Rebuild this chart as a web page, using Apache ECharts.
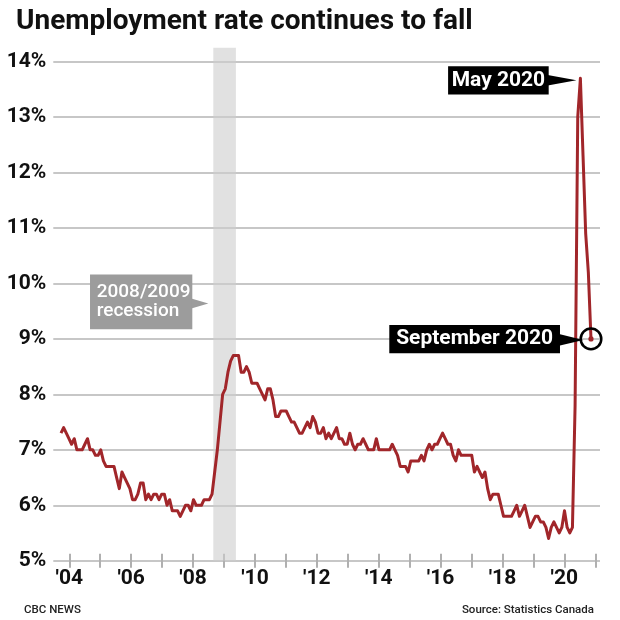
<!DOCTYPE html>
<html><head><meta charset="utf-8">
<script src="https://cdn.jsdelivr.net/npm/echarts/dist/echarts.min.js"></script>
<style>html,body{margin:0;padding:0;background:#fff}#c{width:620px;height:620px}</style>
</head><body><div id="c"></div>
<script>
// Monthly unemployment rate (%), Jan..Dec of each year
const rate2004 = [7.3, 7.4, 7.3, 7.2, 7.1, 7.2, 7.0, 7.0, 7.0, 7.1, 7.2, 7.0];
const rate2005 = [7.0, 6.9, 6.9, 7.0, 6.8, 6.7, 6.7, 6.7, 6.7, 6.5, 6.3, 6.6];
const rate2006 = [6.5, 6.4, 6.3, 6.1, 6.1, 6.2, 6.4, 6.4, 6.1, 6.2, 6.1, 6.2];
const rate2007 = [6.2, 6.1, 6.2, 6.2, 6.0, 6.1, 5.9, 5.9, 5.9, 5.8, 5.9, 6.0];
const rate2008 = [6.0, 5.9, 6.1, 6.0, 6.0, 6.0, 6.1, 6.1, 6.1, 6.2, 6.6, 7.0];
const rate2009 = [7.5, 8.0, 8.1, 8.4, 8.6, 8.7, 8.7, 8.7, 8.4, 8.4, 8.5, 8.4];
const rate2010 = [8.2, 8.2, 8.2, 8.1, 8.0, 7.9, 8.1, 8.1, 7.9, 7.6, 7.6, 7.7];
const rate2011 = [7.7, 7.7, 7.6, 7.5, 7.5, 7.4, 7.3, 7.3, 7.4, 7.5, 7.4, 7.6];
const rate2012 = [7.5, 7.3, 7.3, 7.4, 7.2, 7.3, 7.2, 7.3, 7.4, 7.2, 7.2, 7.1];
const rate2013 = [7.1, 7.3, 7.1, 7.0, 7.1, 7.1, 7.2, 7.1, 7.0, 7.0, 7.0, 7.2];
const rate2014 = [7.0, 7.0, 7.0, 7.0, 7.0, 7.1, 7.0, 6.9, 6.7, 6.7, 6.7, 6.6];
const rate2015 = [6.8, 6.8, 6.8, 6.8, 6.9, 6.8, 7.0, 7.1, 7.0, 7.1, 7.1, 7.2];
const rate2016 = [7.3, 7.2, 7.1, 7.1, 6.9, 6.8, 7.0, 6.9, 6.9, 6.9, 6.9, 6.9];
const rate2017 = [6.6, 6.7, 6.6, 6.5, 6.6, 6.3, 6.1, 6.2, 6.2, 6.2, 6.0, 5.8];
const rate2018 = [5.8, 5.8, 5.8, 5.9, 6.0, 5.8, 5.9, 6.0, 5.8, 5.6, 5.7, 5.8];
const rate2019 = [5.8, 5.7, 5.7, 5.6, 5.4, 5.6, 5.7, 5.6, 5.5, 5.6, 5.9, 5.6];
const rate2020 = [5.5, 5.6, 7.8, 13.0, 13.7, 12.3, 10.9, 10.2, 9.0];

const years = [2004,2005,2006,2007,2008,2009,2010,2011,2012,2013,2014,2015,2016,2017,2018,2019,2020];
const ratesByYear = [rate2004,rate2005,rate2006,rate2007,rate2008,rate2009,rate2010,rate2011,rate2012,rate2013,rate2014,rate2015,rate2016,rate2017,rate2018,rate2019,rate2020];

const yTicks = [5,6,7,8,9,10,11,12,13,14];
const xTickYears = [2004,2006,2008,2010,2012,2014,2016,2018,2020];

const recessionStart = 2008.79, recessionEnd = 2009.5;
const recessionLabel = '2008/2009\nrecession';
const mayLabel = 'May 2020', mayPoint = [2020 + 4/12, 13.7];
const sepLabel = 'September 2020', sepPoint = [2020 + 8/12, 9.0];

const seriesData = [];
years.forEach((y, k) => ratesByYear[k].forEach((v, m) => seriesData.push([y + m/12, v])));

const RED = '#a1262a';
const FONT = 'Roboto, "Noto Sans", sans-serif';
const chart = echarts.init(document.getElementById('c'), null, {renderer: 'canvas'});

const option = {
  animation: false,
  backgroundColor: '#fff',
  title: [
    {text: 'Unemployment rate continues to fall', left: 11, top: 3,
     textStyle: {fontFamily: FONT, fontSize: 28, fontWeight: 'bold', color: '#111'}},
    {text: 'CBC NEWS', left: 19, top: 599,
     textStyle: {fontFamily: FONT, fontSize: 11.5, fontWeight: 500, color: '#222'}},
    {text: 'Source: Statistics Canada', right: 21, top: 599,
     textStyle: {fontFamily: FONT, fontSize: 11.5, fontWeight: 500, color: '#222'}}
  ],
  grid: [
    {left: 53.3, right: 20, top: 47.8, bottom: 59.3, outerBoundsMode: 'none', containLabel: false},
    {left: 69.3, right: 20, top: 47.8, bottom: 59.3, outerBoundsMode: 'none', containLabel: false}
  ],
  xAxis: [
    {type: 'value', gridIndex: 0, min: 2003.758, max: 2020.95, show: false},
    {type: 'value', gridIndex: 1, min: 2004, max: 2021.152, interval: 1, offset: -7,
     axisLine: {show: false},
     axisTick: {show: true, length: 14, lineStyle: {color: '#b0b0b0', width: 2}},
     splitLine: {show: false},
     axisLabel: {margin: 15, fontFamily: FONT, fontSize: 21, fontWeight: 'bold', color: '#111',
       showMaxLabel: false,
       formatter: v => xTickYears.includes(Math.round(v)) && Math.abs(v - Math.round(v)) < 1e-6 ? "'" + String(Math.round(v)).slice(2) : ''}}
  ],
  yAxis: [
    {type: 'value', gridIndex: 0, min: yTicks[0], max: 14.25, interval: 1,
     axisLine: {show: false}, axisTick: {show: false},
     splitLine: {show: true, showMaxLine: false, lineStyle: {color: '#b4b4b4', width: 1.5}},
     axisLabel: {margin: 7, fontFamily: FONT, fontSize: 21, fontWeight: 'bold', color: '#111', showMaxLabel: false,
       formatter: v => yTicks.includes(v) ? v + '%' : ''}},
    {type: 'value', gridIndex: 1, min: 5, max: 14.25, show: false}
  ],
  series: [{
    type: 'line', xAxisIndex: 0, yAxisIndex: 0, data: seriesData,
    showSymbol: false, symbol: 'none', silent: true, z: 3,
    lineStyle: {color: RED, width: 3, join: 'round'},
    markArea: {silent: true, itemStyle: {color: 'rgba(205,205,205,0.6)'},
      data: [[{xAxis: recessionStart}, {xAxis: recessionEnd}]]}
  }]
};
chart.setOption(option);

const m = chart.convertToPixel({seriesIndex: 0}, mayPoint);
const s = chart.convertToPixel({seriesIndex: 0}, sepPoint);
const r = chart.convertToPixel({seriesIndex: 0}, [recessionStart, 9.64]);

const labelFont = {fontFamily: 'Roboto', fontSize: 21, fontWeight: 'bold'};
const elements = [];
// May 2020
(function(){
  const tip = [m[0] - 4, m[1] + 2];
  const bx = tip[0] - 27.7, w = 100.6, h = 28.3;
  elements.push({type: 'rect', shape: {x: bx - w, y: tip[1] - h/2, width: w, height: h}, style: {fill: '#000'}, z: 10});
  elements.push({type: 'polygon', shape: {points: [[bx - 1, tip[1] - 5.3], tip, [bx - 1, tip[1] + 5.3]]}, style: {fill: '#000'}, z: 10});
  elements.push({type: 'text', x: bx - w/2, y: tip[1], style: Object.assign({text: mayLabel, fill: '#fff', align: 'center', verticalAlign: 'middle'}, labelFont), z: 11});
})();
// September 2020
(function(){
  const tip = [s[0] - 7.7, s[1] + 1];
  const bx = tip[0] - 23.3, w = 170.7, h = 28.4, cy = tip[1] - 0.8;
  elements.push({type: 'rect', shape: {x: bx - w, y: cy - h/2, width: w, height: h}, style: {fill: '#000'}, z: 10});
  elements.push({type: 'polygon', shape: {points: [[bx - 1, tip[1] - 5.8], tip, [bx - 1, tip[1] + 5.8]]}, style: {fill: '#000'}, z: 10});
  elements.push({type: 'text', x: bx - w/2, y: cy, style: Object.assign({text: sepLabel, fill: '#fff', align: 'center', verticalAlign: 'middle'}, labelFont), z: 11});
  elements.push({type: 'circle', shape: {cx: s[0], cy: s[1], r: 10.3}, style: {fill: 'rgba(0,0,0,0)', stroke: '#000', lineWidth: 2.5}, z: 12});
  elements.push({type: 'circle', shape: {cx: s[0], cy: s[1], r: 2.6}, style: {fill: RED}, z: 12});
})();
// Recession label
(function(){
  const tip = [r[0] - 5, r[1]];
  const bx = tip[0] - 16, w = 102.3, h = 54.7, cy = tip[1] - 1.6;
  elements.push({type: 'rect', shape: {x: bx - w, y: cy - h/2, width: w, height: h}, style: {fill: '#9c9c9c'}, z: 10});
  elements.push({type: 'polygon', shape: {points: [[bx - 1, tip[1] - 5], tip, [bx - 1, tip[1] + 5]]}, style: {fill: '#9c9c9c'}, z: 10});
  elements.push({type: 'text', x: bx - w + 6.7, y: cy, style: {text: recessionLabel, fill: '#fff', align: 'left', verticalAlign: 'middle',
    fontFamily: 'Roboto', fontSize: 19, fontWeight: 500, lineHeight: 19.5}, z: 11});
})();
chart.setOption({graphic: {elements: elements}});
</script></body></html>
